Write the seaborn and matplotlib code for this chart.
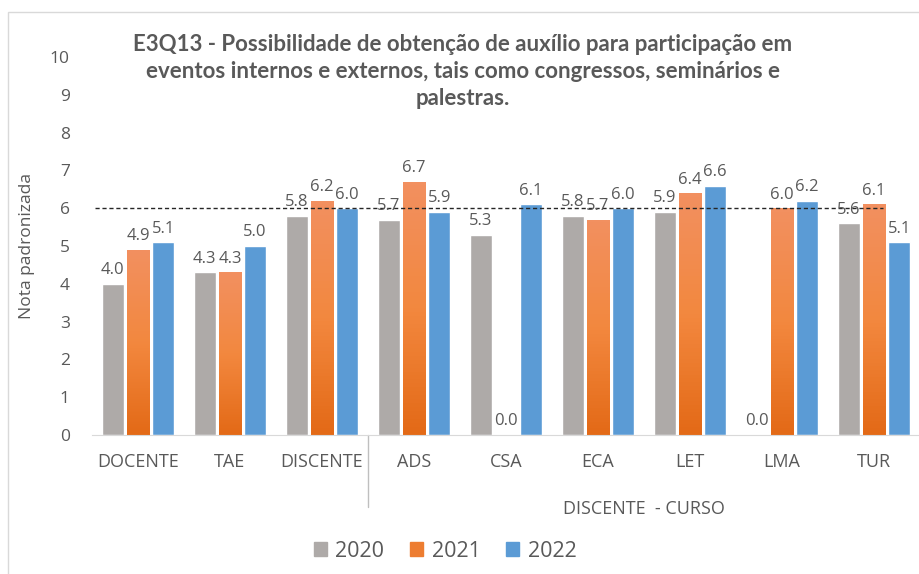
import numpy as np
import pandas as pd
import matplotlib.pyplot as plt
import seaborn as sns
from matplotlib.patches import Rectangle, Patch
from matplotlib.colors import LinearSegmentedColormap

# dados do grafico
categorias = ['DOCENTE', 'TAE', 'DISCENTE', 'ADS', 'CSA', 'ECA', 'LET', 'LMA', 'TUR']
anos = ['2020', '2021', '2022']
notas_2020 = [4.0, 4.3, 5.8, 5.7, 5.3, 5.8, 5.9, 0.0, 5.6]
notas_2021 = [4.9, 4.3, 6.2, 6.7, 0.0, 5.7, 6.4, 6.0, 6.1]
notas_2022 = [5.1, 5.0, 6.0, 5.9, 6.1, 6.0, 6.6, 6.2, 5.1]
meta = 6
cores = ['#AEAAA8', '#ED7D31', '#5B9BD5']
titulo = ('E3Q13 - Possibilidade de obtenção de auxílio para participação em\n'
          'eventos internos e externos, tais como congressos, seminários e\n'
          'palestras.')

df = pd.DataFrame({
    'categoria': categorias * 3,
    'ano': [a for a in anos for _ in categorias],
    'nota': notas_2020 + notas_2021 + notas_2022,
})

sns.set_style('white')
plt.rcParams['font.family'] = ['Open Sans', 'DejaVu Sans']
cinza = '#595959'

fig = plt.figure(figsize=(9.2, 5.74), dpi=100)
ax = fig.add_axes([0.1, 0.2422, 0.9, 0.6585])

sns.barplot(data=df, x='categoria', y='nota', hue='ano', palette=cores,
            saturation=1, width=0.82, gap=0.1, errorbar=None, legend=False,
            ax=ax)

ax.set_ylim(0, 10)
ax.set_xlim(-0.5, 8.5)

# degrade nas barras laranja (como no Excel)
grad = LinearSegmentedColormap.from_list('lj', ['#E36A17', '#F3883F', '#F29060'])
for bar in ax.containers[1]:
    x0, w, h = bar.get_x(), bar.get_width(), bar.get_height()
    if h <= 0:
        continue
    im = ax.imshow(np.linspace(0, 1, 64).reshape(-1, 1), cmap=grad, origin='lower',
                   extent=[x0, x0 + w, 0, h], aspect='auto', zorder=bar.get_zorder())
    im.set_clip_path(bar)
ax.set_ylim(0, 10)
ax.set_xlim(-0.5, 8.5)

for c in ax.containers:
    ax.bar_label(c, fmt='%.1f', padding=4, fontsize=12, color=cinza)

ax.axhline(meta, xmin=0.004, xmax=0.955, color='#262626', lw=1, ls=(0, (3, 2)))

ax.set_yticks(range(0, 11))
ax.tick_params(axis='y', length=0, pad=16, labelsize=12.5, labelcolor=cinza)
ax.tick_params(axis='x', length=0, pad=13, labelsize=13, labelcolor=cinza)
ax.set_xlabel('')
ax.set_ylabel('Nota padronizada', fontsize=12.5, color=cinza)
ax.yaxis.set_label_coords(-0.069, 0.5)

for s in ['top', 'right', 'left']:
    ax.spines[s].set_visible(False)
ax.spines['bottom'].set_color('#D9D9D9')

# separador e rotulo do grupo de cursos
ax.plot([2.5, 2.5], [0, -0.19], transform=ax.get_xaxis_transform(),
        color='#BFBFBF', lw=1, clip_on=False)
ax.text(5.5, -0.195, 'DISCENTE  - CURSO', transform=ax.get_xaxis_transform(),
        ha='center', va='center', fontsize=13, color=cinza)

fig.text(0.503, 0.94, titulo, ha='center', va='top', fontsize=16,
         fontweight='bold', color=cinza, family=['Lato', 'DejaVu Sans'],
         linespacing=1.35)

handles = [Patch(color=c, label=a) for c, a in zip(cores, anos)]
fig.legend(handles=handles, loc='center', bbox_to_anchor=(0.484, 0.04), ncol=3,
           frameon=False, fontsize=15.5, handlelength=0.6, handleheight=0.6,
           handletextpad=0.4, columnspacing=1.2, labelcolor=cinza)

fig.add_artist(Rectangle((8 / 920, -0.1), 1.2, 1 - 12 / 574 + 0.1,
                         transform=fig.transFigure, fill=False,
                         ec='#D9D9D9', lw=1))

fig.savefig('out.png', dpi=100)
